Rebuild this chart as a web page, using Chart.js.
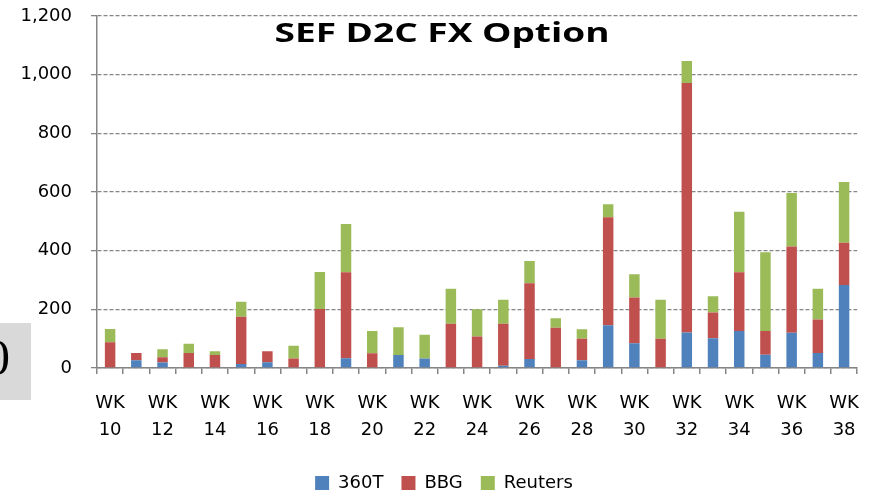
<!DOCTYPE html>
<html>
<head>
<meta charset="utf-8">
<script src="https://cdn.jsdelivr.net/npm/chart.js@4.4.1/dist/chart.umd.min.js"></script>
<style>
  body { margin: 0; background: #fff; }
  #wrap { position: relative; width: 875px; height: 493px; overflow: hidden; }
  #chart { position: absolute; left: 0; top: 0; }
  #sideBox {
    position: absolute; left: 0; top: 323px; width: 31px; height: 77px;
    background: #d9d9d9; overflow: hidden;
  }
  #sideBox span {
    position: absolute; left: -15px; top: 9px;
    font: 50px "Liberation Serif", serif; color: #000; line-height: 1;
  }
</style>
</head>
<body>
<div id="wrap">
  <canvas id="chart" width="875" height="493"></canvas>
  <div id="sideBox"><span>0</span></div>
</div>
<script>
let chart;

// weekly trade counts, WK10 .. WK38
const WEEKS = [10, 11, 12, 13, 14, 15, 16, 17, 18, 19, 20, 21, 22, 23, 24,
               25, 26, 27, 28, 29, 30, 31, 32, 33, 34, 35, 36, 37, 38];
const T360 = [0, 26, 19, 0, 0, 14, 20, 0, 0, 33, 0, 44, 32, 0, 0,
              8, 31, 0, 26, 146, 84, 0, 121, 101, 126, 45, 120, 51, 283];
const BBG = [88, 25, 18, 51, 44, 161, 37, 32, 201, 293, 50, 0, 0, 151, 107,
             143, 258, 137, 74, 368, 156, 100, 851, 88, 200, 81, 294, 114, 144];
const REUTERS = [45, 0, 27, 32, 13, 51, 0, 44, 126, 165, 76, 95, 81, 119, 93,
                 82, 76, 33, 32, 44, 80, 133, 75, 56, 207, 269, 183, 105, 207];
const Y_MIN = 0, Y_MAX = 1200, Y_STEP = 200;
const TITLE = "SEF D2C FX Option";

const FONT = '"DejaVu Sans", sans-serif';
const GRID = "#858585";

// title sits inside the plot area, so draw it by hand
const titlePlugin = {
    id: "insideTitle",
    afterDraw(c) {
        const ctx = c.ctx;
        ctx.save();
        ctx.font = 'bold 26px "Open Sans", sans-serif';
        const w = ctx.measureText(TITLE).width;
        ctx.translate(442, 42);
        ctx.scale(335 / w, 1);
        ctx.fillStyle = "#000";
        ctx.textAlign = "center";
        ctx.textBaseline = "alphabetic";
        ctx.fillText(TITLE, 0, 0);
        ctx.restore();
    }
};

function renderChart() {
    const ctx = document.getElementById("chart");
    if (chart) chart.destroy();

    chart = new Chart(ctx, {
        type: "bar",
        data: {
            labels: WEEKS.map(w => "WK " + w),
            datasets: [
                { label: "360T", data: T360, backgroundColor: "#4F81BD" },
                { label: "BBG", data: BBG, backgroundColor: "#C0504D" },
                { label: "Reuters", data: REUTERS, backgroundColor: "#9BBB59" }
            ]
        },
        options: {
            responsive: false,
            animation: false,
            layout: { padding: { left: 20, right: 7, top: 16, bottom: -9 } },
            datasets: { bar: { barPercentage: 0.4, categoryPercentage: 1 } },
            plugins: {
                legend: {
                    position: "bottom",
                    labels: {
                        boxWidth: 14, boxHeight: 14, padding: 18,
                        color: "#000", font: { family: FONT, size: 18 }
                    }
                },
                tooltip: { enabled: false }
            },
            scales: {
                x: {
                    stacked: true,
                    afterFit: s => { s.height = 88; },
                    border: { color: GRID, width: 1.5 },
                    grid: { drawOnChartArea: false, tickLength: 6, color: GRID, lineWidth: 1.5 },
                    ticks: {
                        autoSkip: false, maxRotation: 0, padding: 16,
                        color: "#000",
                        font: { family: FONT, size: 18, lineHeight: 1.5 },
                        callback: (v, i) => i % 2 === 0 ? ["WK", String(WEEKS[i])] : ""
                    }
                },
                y: {
                    stacked: true,
                    min: Y_MIN, max: Y_MAX,
                    // keep the label padding from pushing the plot top down
                    afterFit: s => { s.width = 77; s.paddingTop = 0; s.paddingBottom = 0; },
                    border: { color: GRID, width: 1.5, dash: [4, 2] },
                    grid: { color: GRID, lineWidth: 1.3, tickLength: 6 },
                    ticks: {
                        stepSize: Y_STEP, padding: 19, color: "#000",
                        font: { family: FONT, size: 18 },
                        callback: v => v.toLocaleString("en-US")
                    }
                }
            }
        },
        plugins: [titlePlugin]
    });
}

renderChart();
</script>
</body>
</html>
